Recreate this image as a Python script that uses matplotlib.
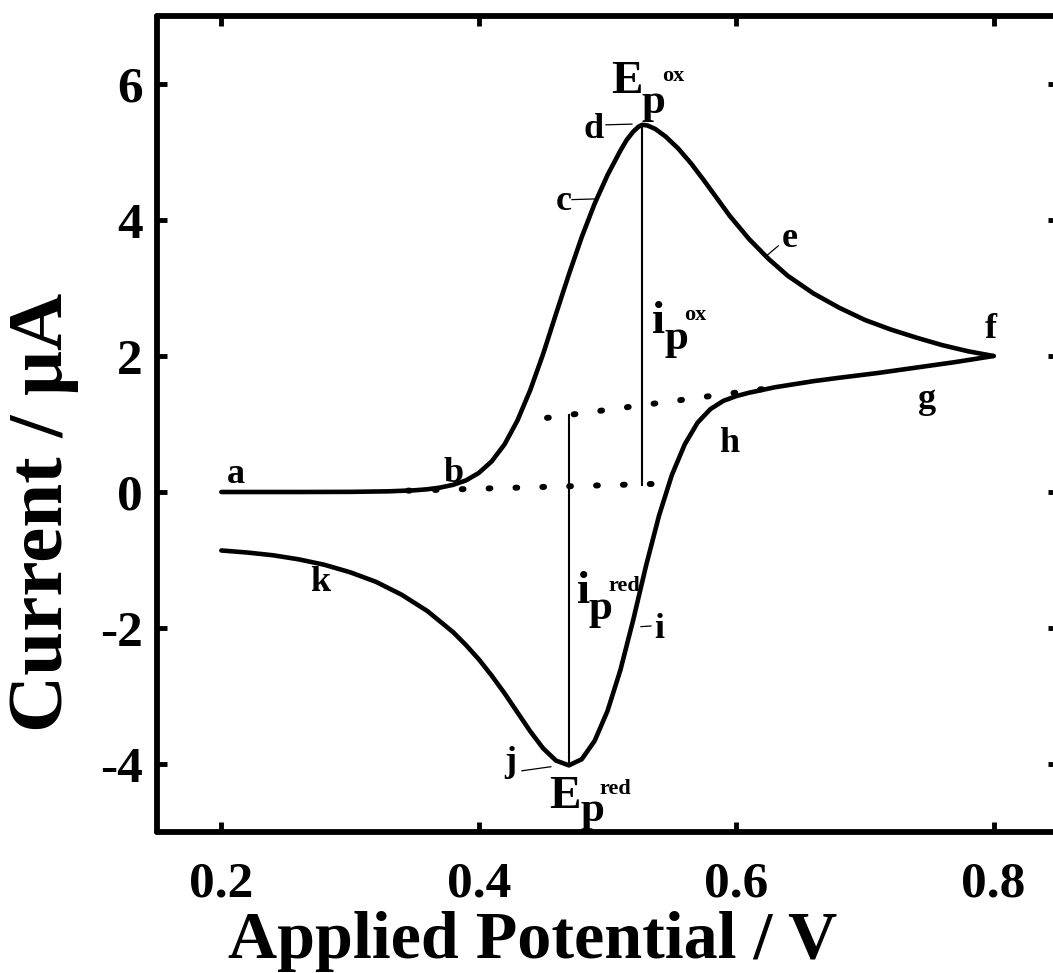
import matplotlib
matplotlib.use("Agg")
import matplotlib.pyplot as plt

plt.rcParams['font.family'] = ['Liberation Serif', 'DejaVu Serif']
plt.rcParams['font.weight'] = 'bold'
plt.rcParams['axes.unicode_minus'] = False

# forward (oxidation) scan
fwd_x = [0.20, 0.26, 0.30, 0.33, 0.35, 0.36, 0.37, 0.38, 0.39, 0.40, 0.41, 0.42,
         0.43, 0.44, 0.45, 0.46, 0.47, 0.48, 0.49, 0.50, 0.51, 0.515, 0.52, 0.524,
         0.527, 0.531, 0.537, 0.545, 0.555, 0.565, 0.575, 0.585, 0.595, 0.61,
         0.625, 0.64, 0.66, 0.68, 0.70, 0.72, 0.74, 0.76, 0.78, 0.80]
fwd_y = [0.00, 0.00, 0.002, 0.01, 0.025, 0.04, 0.065, 0.105, 0.17, 0.28, 0.45, 0.70,
         1.05, 1.50, 2.03, 2.62, 3.20, 3.75, 4.24, 4.66, 5.02, 5.18, 5.30, 5.37,
         5.40, 5.39, 5.34, 5.23, 5.05, 4.83, 4.58, 4.32, 4.06, 3.72,
         3.43, 3.18, 2.92, 2.71, 2.53, 2.39, 2.27, 2.16, 2.07, 2.00]
# reverse (reduction) scan
rev_x = [0.80, 0.77, 0.74, 0.71, 0.68, 0.66, 0.64, 0.63, 0.62, 0.61, 0.60, 0.59,
         0.58, 0.57, 0.56, 0.55, 0.54, 0.53, 0.52, 0.51, 0.50, 0.49, 0.48, 0.47,
         0.46, 0.45, 0.44, 0.43, 0.42, 0.41, 0.40, 0.39, 0.38, 0.36, 0.34, 0.32,
         0.30, 0.28, 0.26, 0.24, 0.22, 0.20]
rev_y = [2.00, 1.91, 1.83, 1.75, 1.68, 1.63, 1.57, 1.54, 1.50, 1.46, 1.41, 1.34,
         1.22, 1.02, 0.70, 0.25, -0.35, -1.08, -1.88, -2.62, -3.22, -3.66, -3.93, -4.02,
         -3.95, -3.77, -3.52, -3.24, -2.96, -2.70, -2.46, -2.25, -2.06, -1.75, -1.51, -1.32,
         -1.18, -1.07, -0.99, -0.93, -0.89, -0.86]

# baselines (dotted)
base_ox_x = [0.345, 0.538]
base_ox_y = [0.02, 0.12]
base_red_x = [0.453, 0.635]
base_red_y = [1.09, 1.55]

# peak current markers
ipox_x = [0.527, 0.527]
ipox_y = [0.10, 5.40]
ipred_x = [0.470, 0.470]
ipred_y = [1.13, -4.02]

xticks = [0.2, 0.4, 0.6, 0.8]
xticklabels = ['0.2', '0.4', '0.6', '0.8']
yticks = [-4, -2, 0, 2, 4, 6]
yticklabels = ['-4', '-2', '0', '2', '4', '6']

fig = plt.figure(figsize=(10.53, 9.73), dpi=100)
ax = fig.add_axes([157/1053, (973-832)/973, (1058-157)/1053, (832-16)/973])

ax.plot(fwd_x, fwd_y, color='black', lw=3.3, solid_joinstyle='round', solid_capstyle='round')
ax.plot(rev_x, rev_y, color='black', lw=3.3, solid_joinstyle='round', solid_capstyle='round')
ax.plot(base_ox_x, base_ox_y, color='black', lw=4.3, linestyle=(0, (0.3, 4.2)), dash_capstyle='round')
ax.plot(base_red_x, base_red_y, color='black', lw=4.3, linestyle=(0, (0.3, 4.2)), dash_capstyle='round')
ax.plot(ipox_x, ipox_y, color='black', lw=1.5)
ax.plot(ipred_x, ipred_y, color='black', lw=1.5)

ax.set_xlim(0.15, 0.85)
ax.set_ylim(-5, 7)
ax.set_xticks(xticks)
ax.set_xticklabels(xticklabels)
ax.set_yticks(yticks)
ax.set_yticklabels(yticklabels)
ax.tick_params(direction='in', length=7, width=3.5, top=True, right=True,
               labelsize=37)
ax.tick_params(axis='x', pad=21)
ax.tick_params(axis='y', pad=10)
for s in ax.spines.values():
    s.set_linewidth(4.2)
    s.set_capstyle('round')

ax.set_xlabel('Applied Potential / V', fontsize=49, fontweight='bold')
ax.set_ylabel('Current / \u03bcA', fontsize=57, fontweight='bold')
ax.xaxis.set_label_coords(0.417, -0.097)
ax.yaxis.set_label_coords(-0.0866, 0.392)

LS = 26
letters = [('a', 0.204, 0.13), ('b', 0.3728, 0.15), ('c', 0.4599, 4.15),
           ('d', 0.4817, 5.21), ('e', 0.635, 3.60), ('f', 0.793, 2.26),
           ('g', 0.7409, 1.24), ('h', 0.5868, 0.59), ('i', 0.536, -2.15),
           ('j', 0.4195, -4.10), ('k', 0.2693, -1.45)]
for t, x, y in letters:
    ax.text(x, y, t, fontsize=LS, fontweight='bold', ha='left', va='baseline')

leaders = [((0.4724, 0.491), (4.30, 4.31)), ((0.4988, 0.519), (5.40, 5.41)),
           ((0.6233, 0.6327), (3.47, 3.62)), ((0.526, 0.5338), (-1.98, -1.97)),
           ((0.4335, 0.456), (-4.10, -4.04))]
for xs, ys in leaders:
    ax.plot(xs, ys, color='black', lw=0.9)

def label(parts):
    for t, x, y, fs in parts:
        ax.text(x, y, t, fontsize=fs, fontweight='bold', ha='left', va='baseline')

label([('E', 0.5027, 5.87, 34), ('p', 0.5261, 5.57, 31), ('ox', 0.5425, 6.04, 16)])
label([('i', 0.5346, 2.34, 34), ('p', 0.5440, 2.10, 31), ('ox', 0.5595, 2.53, 16)])
label([('i', 0.4763, -1.63, 34), ('p', 0.4856, -1.87, 31), ('red', 0.5005, -1.46, 16)])
label([('E', 0.4545, -4.65, 34), ('p', 0.4794, -4.84, 31), ('red', 0.4935, -4.44, 16)])

fig.savefig('out.png', dpi=100)
